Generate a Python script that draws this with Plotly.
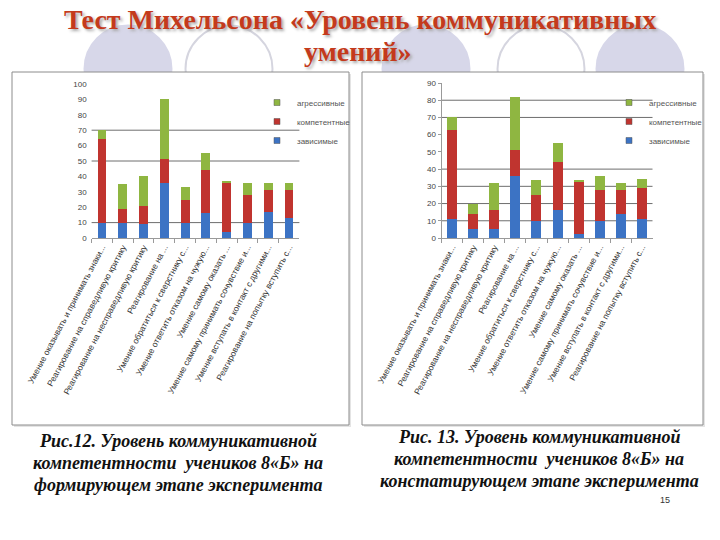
import plotly.graph_objects as go

# ---------------- data ----------------
categories = [
    "Умение оказывать и принимать знаки...",
    "Реагирование на справедливую критику",
    "Реагирование на несправедливую критику",
    "Реагирование на ...",
    "Умение обратиться к сверстнику с...",
    "Умение ответить отказом на чужую...",
    "Умение самому оказать ...",
    "Умение самому принимать сочувствие и...",
    "Умение вступать в контакт с другими...",
    "Реагирование на попытку вступить с...",
]
series_names = ["зависимые", "компетентные", "агрессивные"]

left_dependent = [10, 10, 9, 36, 10, 16, 4, 10, 17, 13]
left_competent = [54, 9, 11.5, 15, 15, 28, 32, 18, 14, 18]
left_aggressive = [6, 16, 20, 39, 8, 11, 1, 8, 5, 5]

right_dependent = [11, 5, 5, 36, 10, 16, 2.5, 10, 14, 11]
right_competent = [52, 9, 11, 15, 15, 28, 30.5, 18, 14, 18]
right_aggressive = [7, 6, 16, 31, 8.5, 11, 0.5, 8, 4, 5]

left_yticks = list(range(0, 101, 10))
right_yticks = list(range(0, 91, 10))
left_grid = [10, 50, 70]
right_grid = [10, 20, 30, 40, 70, 80]

title_line1 = "Тест Михельсона «Уровень коммуникативных"
title_line2 = "умений»"
caption_left = ["Рис.12. Уровень коммуникативной",
                "компетентности  учеников 8«Б» на",
                "формирующем этапе эксперимента"]
caption_right = ["Рис. 13. Уровень коммуникативной",
                 "компетентности  учеников 8«Б» на",
                 "констатирующем этапе эксперимента"]
page_number = "15"

colors = {"зависимые": "#3C73C4", "компетентные": "#C0342F", "агрессивные": "#8FB641"}

SERIF = "'Liberation Serif', 'DejaVu Serif', 'Times New Roman', serif"
SANS = "'Liberation Sans', Arial, sans-serif"

W, H = 720, 540
def px(x):
    return x / W
def py(y):
    return 1 - y / H

fig = go.Figure()

left_vals = [left_dependent, left_competent, left_aggressive]
right_vals = [right_dependent, right_competent, right_aggressive]

for name, vals in zip(series_names, left_vals):
    fig.add_trace(go.Bar(x=categories, y=vals, name=name, xaxis="x", yaxis="y",
                         marker=dict(color=colors[name], line=dict(width=0)),
                         width=0.43, showlegend=False, hoverinfo="y"))
for name, vals in zip(series_names, right_vals):
    fig.add_trace(go.Bar(x=categories, y=vals, name=name, xaxis="x2", yaxis="y2",
                         marker=dict(color=colors[name], line=dict(width=0)),
                         width=0.47, showlegend=False, hoverinfo="y"))

# legend entries (top to bottom: агрессивные, компетентные, зависимые)
for lg, xa, ya in [("legend", "x", "y"), ("legend2", "x2", "y2")]:
    for name in series_names[::-1]:
        fig.add_trace(go.Scatter(x=[None], y=[None], mode="markers", name=name,
                                 xaxis=xa, yaxis=ya, legend=lg,
                                 marker=dict(symbol="square", size=6, color=colors[name],
                                             line=dict(width=0.5, color="#555"))))

shapes = []
# background circles
for cx, filled in [(128, True), (229, False), (426, True), (541, False), (640, True)]:
    r = 43.5
    shapes.append(dict(type="circle", xref="paper", yref="paper", layer="below",
                       x0=px(cx - r), x1=px(cx + r), y0=py(69 + r), y1=py(69 - r),
                       fillcolor="#D7D7E9" if filled else "white",
                       line=dict(color="#D5D5DF" if not filled else "#D7D7E9", width=2)))
# panels
for x0, x1 in [(12, 349), (362, 703)]:
    shapes.append(dict(type="rect", xref="paper", yref="paper", layer="below",
                       x0=px(x0 + 2), x1=px(x1 + 2), y0=py(427), y1=py(74),
                       fillcolor="#E4E4E4", line=dict(width=0)))
    shapes.append(dict(type="rect", xref="paper", yref="paper", layer="below",
                       x0=px(x0), x1=px(x1), y0=py(425), y1=py(72),
                       fillcolor="white", line=dict(color="#8C8C8C", width=1)))
# partial gridlines
for g in left_grid:
    shapes.append(dict(type="line", xref="x domain", yref="y", layer="below",
                       x0=0, x1=1, y0=g, y1=g, line=dict(color="#6E6E6E", width=1)))
for g in right_grid:
    shapes.append(dict(type="line", xref="x2 domain", yref="y2", layer="below",
                       x0=0, x1=1, y0=g, y1=g, line=dict(color="#6E6E6E", width=1)))

annotations = []
title_font = dict(family=SERIF, size=28, color="#C43A1C", weight="bold",
                  shadow="2px 2px 3px #A8A8A8")
annotations.append(dict(text=title_line1, x=px(360), y=py(19), xref="paper", yref="paper",
                        showarrow=False, xanchor="center", yanchor="middle", font=title_font))
annotations.append(dict(text=title_line2, x=px(358), y=py(51), xref="paper", yref="paper",
                        showarrow=False, xanchor="center", yanchor="middle", font=title_font))
cap_font = dict(family=SERIF, size=18, color="#111111", weight="bold", style="italic")
for i, line in enumerate(caption_left):
    annotations.append(dict(text=line, x=px(178), y=py(441 + 22 * i), xref="paper", yref="paper",
                            showarrow=False, xanchor="center", yanchor="middle", font=cap_font))
for i, line in enumerate(caption_right):
    annotations.append(dict(text=line, x=px(539), y=py(437 + 22 * i), xref="paper", yref="paper",
                            showarrow=False, xanchor="center", yanchor="middle", font=cap_font))
annotations.append(dict(text=page_number, x=px(665), y=py(500), xref="paper", yref="paper",
                        showarrow=False, xanchor="center", yanchor="middle",
                        font=dict(family=SANS, size=9, color="#333")))

tickfont = dict(family=SANS, size=8, color="#444")
xtickfont = dict(family=SANS, size=8.5, color="#333")

xaxis_common = dict(type="category", tickangle=-62, tickfont=xtickfont, showgrid=False,
                    showline=True, linecolor="#9A9A9A", linewidth=1, ticks="outside",
                    tickson="boundaries", ticklen=4, tickcolor="#9A9A9A", automargin=False,
                    fixedrange=True, zeroline=False)

legend_font = dict(family=SANS, size=8, color="#555")

fig.update_layout(
    width=W, height=H, margin=dict(l=0, r=0, t=0, b=0),
    template="none", paper_bgcolor="white", plot_bgcolor="rgba(0,0,0,0)",
    barmode="stack", showlegend=True, hovermode=False,
    xaxis=dict(domain=[px(91.6), px(299.4)], anchor="y", **xaxis_common),
    yaxis=dict(domain=[py(238), py(84)], anchor="x", range=[0, 100], tickvals=left_yticks,
               tickfont=tickfont, showgrid=False, zeroline=False, showline=False,
               ticks="", automargin=False, fixedrange=True, ticklabelstandoff=4),
    xaxis2=dict(domain=[px(441.5), px(652.5)], anchor="y2", **xaxis_common),
    yaxis2=dict(domain=[py(238), py(83)], anchor="x2", range=[0, 90], tickvals=right_yticks,
                tickfont=tickfont, showgrid=False, zeroline=False, showline=True,
                linecolor="#9A9A9A", ticks="outside", ticklen=3, tickcolor="#9A9A9A",
                automargin=False, fixedrange=True),
    legend=dict(x=px(257), y=py(88), xanchor="left", yanchor="top", font=legend_font,
                bgcolor="rgba(0,0,0,0)", traceorder="normal", borderwidth=0),
    legend2=dict(x=px(609), y=py(88), xanchor="left", yanchor="top", font=legend_font,
                 bgcolor="rgba(0,0,0,0)", traceorder="normal", borderwidth=0),
    shapes=shapes, annotations=annotations,
)

fig.write_html("out.html")
